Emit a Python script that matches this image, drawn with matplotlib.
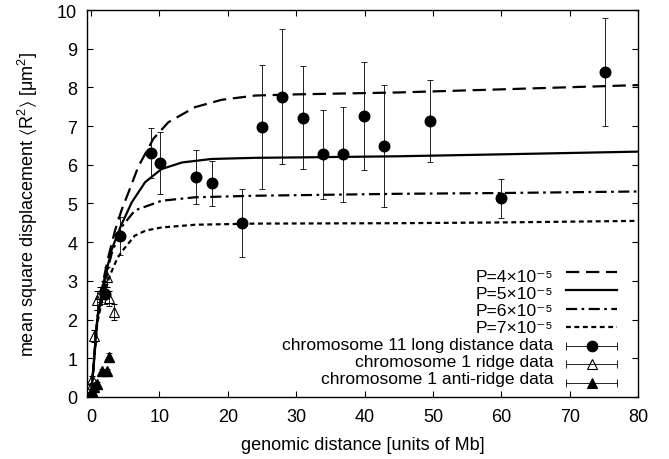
import matplotlib
matplotlib.use("Agg")
import matplotlib.pyplot as plt

plt.rcParams['font.family'] = ['Liberation Sans', 'DejaVu Sans']
plt.rcParams['mathtext.fontset'] = 'custom'
plt.rcParams['mathtext.rm'] = 'Liberation Sans'
plt.rcParams['mathtext.it'] = 'Liberation Sans:italic'
plt.rcParams['mathtext.fallback'] = 'stixsans'
plt.rcParams['font.size'] = 13

# model curves
p4_x = [0, 0.9, 1.9, 2.5, 3.5, 4.5, 5.5, 6.9, 9.1, 11.3, 15.2, 19.1, 24, 30, 45, 60, 80]
p4_y = [0, 2.05, 3.1, 3.6, 4.3, 4.85, 5.3, 5.95, 6.67, 7.1, 7.49, 7.68, 7.79, 7.82, 7.87, 7.95, 8.06]
p5_x = [0, 0.9, 1.9, 3.0, 4.3, 5.95, 7.9, 10.3, 13.3, 17.6, 24, 30, 45, 60, 80]
p5_y = [0, 2.0, 3.0, 3.8, 4.4, 5.03, 5.55, 5.89, 6.06, 6.15, 6.18, 6.19, 6.22, 6.27, 6.34]
p6_x = [0, 0.9, 1.9, 3.0, 4.5, 6.4, 10.3, 15.2, 24, 45, 60, 80]
p6_y = [0, 1.95, 2.9, 3.7, 4.4, 4.82, 5.07, 5.16, 5.2, 5.25, 5.27, 5.31]
p7_x = [0, 0.9, 1.9, 2.9, 3.8, 4.5, 6.4, 8, 10.3, 15.2, 24, 45, 60, 80]
p7_y = [0, 1.9, 2.75, 3.2, 3.57, 3.76, 4.17, 4.3, 4.38, 4.45, 4.48, 4.49, 4.51, 4.55]

# chromosome 11 long distance data
c11_x = [2.1, 4.2, 8.7, 10.1, 15.35, 17.7, 22.1, 25.0, 27.9, 30.95, 33.96, 36.8, 39.9, 42.8, 49.6, 59.9, 75.2]
c11_y = [2.66, 4.16, 6.3, 6.05, 5.68, 5.52, 4.5, 6.98, 7.76, 7.22, 6.27, 6.27, 7.26, 6.49, 7.14, 5.13, 8.4]
c11_err = [0.25, 0.5, 0.65, 0.8, 0.7, 0.58, 0.88, 1.6, 1.75, 1.33, 1.15, 1.22, 1.4, 1.57, 1.06, 0.51, 1.4]

# chromosome 1 ridge data
ridge_x = [0.0, 0.1, 0.45, 0.8, 1.3, 1.9, 2.3, 2.6, 3.4]
ridge_y = [0.25, 0.45, 1.58, 2.5, 2.65, 2.8, 3.1, 2.55, 2.2]
ridge_err = [0.05, 0.1, 0.15, 0.25, 0.2, 0.2, 0.25, 0.2, 0.2]

# chromosome 1 anti-ridge data
anti_x = [0.0, 0.1, 0.5, 0.92, 1.65, 2.3, 2.6]
anti_y = [0.05, 0.15, 0.25, 0.34, 0.68, 0.68, 1.03]
anti_err = [0.02, 0.03, 0.04, 0.05, 0.05, 0.05, 0.1]

labels = ['P=4×10⁻⁵', 'P=5×10⁻⁵', 'P=6×10⁻⁵', 'P=7×10⁻⁵',
          'chromosome 11 long distance data', 'chromosome 1 ridge data',
          'chromosome 1 anti-ridge data']

fig = plt.figure(figsize=(6.69, 4.60), dpi=100)
ax = fig.add_axes([0.130, 0.135, 0.824, 0.841])

lw = 1.6
dash_styles = [(0, (6, 3)), '-', (0, (5, 2, 1.2, 2)), (0, (2.2, 1.6))]
curves = [(p4_x, p4_y), (p5_x, p5_y), (p6_x, p6_y), (p7_x, p7_y)]
for (cx, cy), ls in zip(curves, dash_styles):
    ax.plot(cx, cy, color='black', lw=lw, ls=ls, zorder=2)

eb = dict(color='black', elinewidth=0.6, capsize=2.2, capthick=0.6, ls='none', zorder=3)
ax.errorbar(c11_x, c11_y, yerr=c11_err, fmt='o', ms=7.6, mfc='black', mec='black', **eb)
ax.errorbar(ridge_x, ridge_y, yerr=ridge_err, fmt='^', ms=7, mfc='none', mec='black', mew=0.8, **eb)
ax.errorbar(anti_x, anti_y, yerr=anti_err, fmt='^', ms=7, mfc='black', mec='black', **eb)

ax.set_xlim(-0.6, 80)
ax.set_ylim(0, 10)
ax.set_xticks(range(0, 81, 10))
ax.set_yticks(range(0, 11))
ax.tick_params(direction='in', length=4.5, width=0.8, top=True, right=True, labelsize=13)
ax.tick_params(axis='x', pad=8)
ax.tick_params(axis='y', pad=7)
for s in ax.spines.values():
    s.set_linewidth(1.0)

ax.set_xlabel('genomic distance [units of Mb]', fontsize=13, labelpad=8)
ax.set_ylabel(r'mean square displacement $\langle\mathrm{R}^2\rangle$ [μm$^2$]', fontsize=13, labelpad=12)

# gnuplot style key: one right aligned text block, samples to the right
step = 18.5 / 387
rows = [0.323 - k * step for k in range(7)]
tx, s0, s1 = 0.846, 0.869, 0.962
ax.text(tx, (rows[0] + rows[-1]) / 2, '\n'.join(labels), transform=ax.transAxes,
        ha='right', va='center', multialignment='right', fontsize=12.6, linespacing=1.165)
for i, yy in enumerate(rows):
    if i < 4:
        ax.plot([s0, s1], [yy, yy], transform=ax.transAxes, color='black', lw=lw,
                ls=dash_styles[i], clip_on=False)
    else:
        ax.plot([s0, s1], [yy, yy], transform=ax.transAxes, color='black', lw=0.6, clip_on=False)
        ax.plot([s0, s1], [yy, yy], transform=ax.transAxes, color='black', ls='none',
                marker='|', ms=6, mew=0.6, clip_on=False)
        mk = 'o' if i == 4 else '^'
        fc = 'none' if i == 5 else 'black'
        ms = 7.6 if i == 4 else 7
        ax.plot([(s0 + s1) / 2], [yy], transform=ax.transAxes, marker=mk, ms=ms,
                mfc=fc, mec='black', mew=0.8, ls='none', clip_on=False)

fig.savefig('out.png', dpi=100)
